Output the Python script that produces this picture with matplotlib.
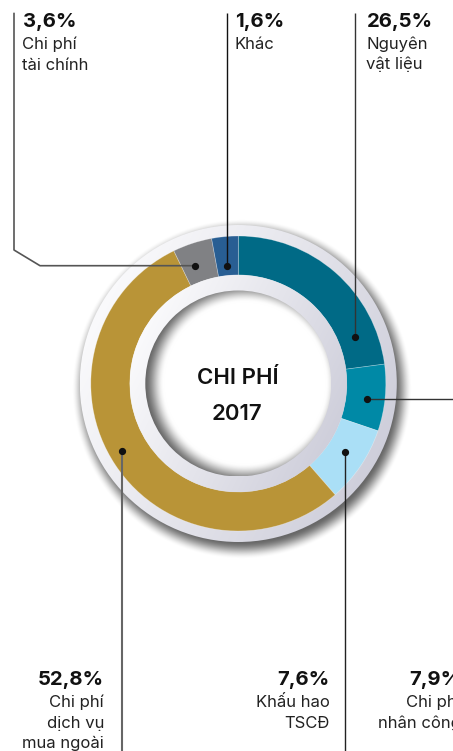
import numpy as np
import matplotlib
matplotlib.use("Agg")
from matplotlib import pyplot as plt
from matplotlib.patches import Circle

plt.rcParams['font.family'] = ['Inter', 'DejaVu Sans']

W, H = 453, 751

# slices, clockwise from 12 o'clock
names = [["Nguyên", "vật liệu"], ["Chi phí", "nhân công"], ["Khấu hao", "TSCĐ"],
         ["Chi phí", "dịch vụ", "mua ngoài"], ["Chi phí", "tài chính"], ["Khác"]]
pct_labels = ["26,5%", "7,9%", "7,6%", "52,8%", "3,6%", "1,6%"]
# arc sizes as drawn in the picture (%)
slice_share = [22.9, 7.3, 8.4, 54.2, 4.3, 2.9]
colors = ["#006a86", "#0089a6", "#aadff6", "#b99437", "#808184", "#285e93"]

center_title = ["CHI PHÍ", "2017"]

cx, cy = 238.3, H - 383.5


def Y(y):
    return H - y


fig = plt.figure(figsize=(W / 100, H / 100), dpi=100)
ax = fig.add_axes([0, 0, 1, 1])


def smooth(a, b, x):
    t = np.clip((x - a) / (b - a), 0, 1)
    return t * t * (3 - 2 * t)


def shaded_disk(r, rgba, z):
    n = int(4 * r)
    xs = np.linspace(cx - r, cx + r, n)
    ys = np.linspace(cy - r, cy + r, n)
    X, Yg = np.meshgrid(xs, ys)
    img = rgba(X - cx, Yg - cy, r)
    im = ax.imshow(img, extent=(cx - r, cx + r, cy - r, cy + r), origin='lower',
                   zorder=z, interpolation='bilinear')
    im.set_clip_path(Circle((cx, cy), r, transform=ax.transData))


def ring_grad(dx, dy, r):
    t = np.clip(((dx * 0.8 - dy * 0.4) / r) * 0.5 + 0.5, 0, 1)[..., None]
    light = np.array([0.99, 0.99, 0.995])
    dark = np.array([0.80, 0.80, 0.85])
    return light * (1 - t) + dark * t


def drop_shadow(dx, dy, r):
    R = 158.5
    d = np.hypot(dx - 4, dy + 6)
    a = 0.6 * (1 - smooth(R - 6, R + 12, d))
    img = np.zeros(dx.shape + (4,))
    img[..., 3] = a
    return img


def inner_hole(dx, dy, r):
    d = np.hypot(dx - 7, dy)
    dark = smooth(r - 12, r + 8, d)
    v = 1 - 0.6 * dark
    return np.dstack([v, v, v])


shaded_disk(185, drop_shadow, 1)
shaded_disk(158.5, ring_grad, 2)
ax.pie(slice_share, colors=colors, startangle=90, counterclock=False,
       radius=147.5, center=(cx, cy),
       wedgeprops=dict(width=39, edgecolor=(1, 1, 1, 0.35), linewidth=0.5, zorder=3))
shaded_disk(108.6, ring_grad, 4)
shaded_disk(93, inner_hole, 5)

ax.text(cx, Y(383.5), center_title[0], ha='center', va='baseline',
        fontsize=16, fontweight='semibold', color='#111111', zorder=6)
ax.text(cx - 1, Y(420), center_title[1], ha='center', va='baseline',
        fontsize=16, fontweight='semibold', color='#111111', zorder=6)

# leader lines: (path in image px, dot, text x, alignment, top/bottom)
leaders = [
    ([(355, 12.7), (355, 336.7)], (354.5, 336.7), 366.5, 'left', 'top'),
    ([(367.3, 399), (460, 399)], (367.3, 399), 461, 'right', 'bottom'),
    ([(344.7, 451.7), (344.7, 760)], (344.7, 451.7), 330, 'right', 'bottom'),
    ([(121.7, 451), (121.7, 760)], (121.7, 451), 104, 'right', 'bottom'),
    ([(14, 12.7), (14, 250), (40, 265.7), (195, 265.7)], (195, 265.7), 22.5, 'left', 'top'),
    ([(227, 12.7), (227, 265.7)], (226.7, 265.7), 235, 'left', 'top'),
]
line_cols = ['#333333', '#333333', '#222222', '#666666', '#555555', '#111111']
line_w = [1.0, 1.0, 1.0, 1.5, 1.2, 1.0]

for i, (path, dot, tx, al, pos) in enumerate(leaders):
    px = [p[0] for p in path]
    py = [Y(p[1]) for p in path]
    ax.plot(px, py, color=line_cols[i], lw=line_w[i], zorder=7, solid_capstyle='butt')
    ax.plot(dot[0], Y(dot[1]), 'o', color='#111111', ms=4.2, zorder=8)
    base = 26.7 if pos == 'top' else 685
    ax.text(tx, Y(base), pct_labels[i], ha=al, va='baseline', fontsize=14.6,
            fontweight='bold', color='#111111', zorder=9)
    for k, s in enumerate(names[i]):
        ax.text(tx, Y(base + 22.3 + 20.5 * k), s, ha=al, va='baseline', fontsize=12,
                color='#222222', zorder=9)

ax.set_xlim(0, W)
ax.set_ylim(0, H)
ax.set_aspect('auto')
ax.axis('off')
fig.savefig("out.png", dpi=100)
